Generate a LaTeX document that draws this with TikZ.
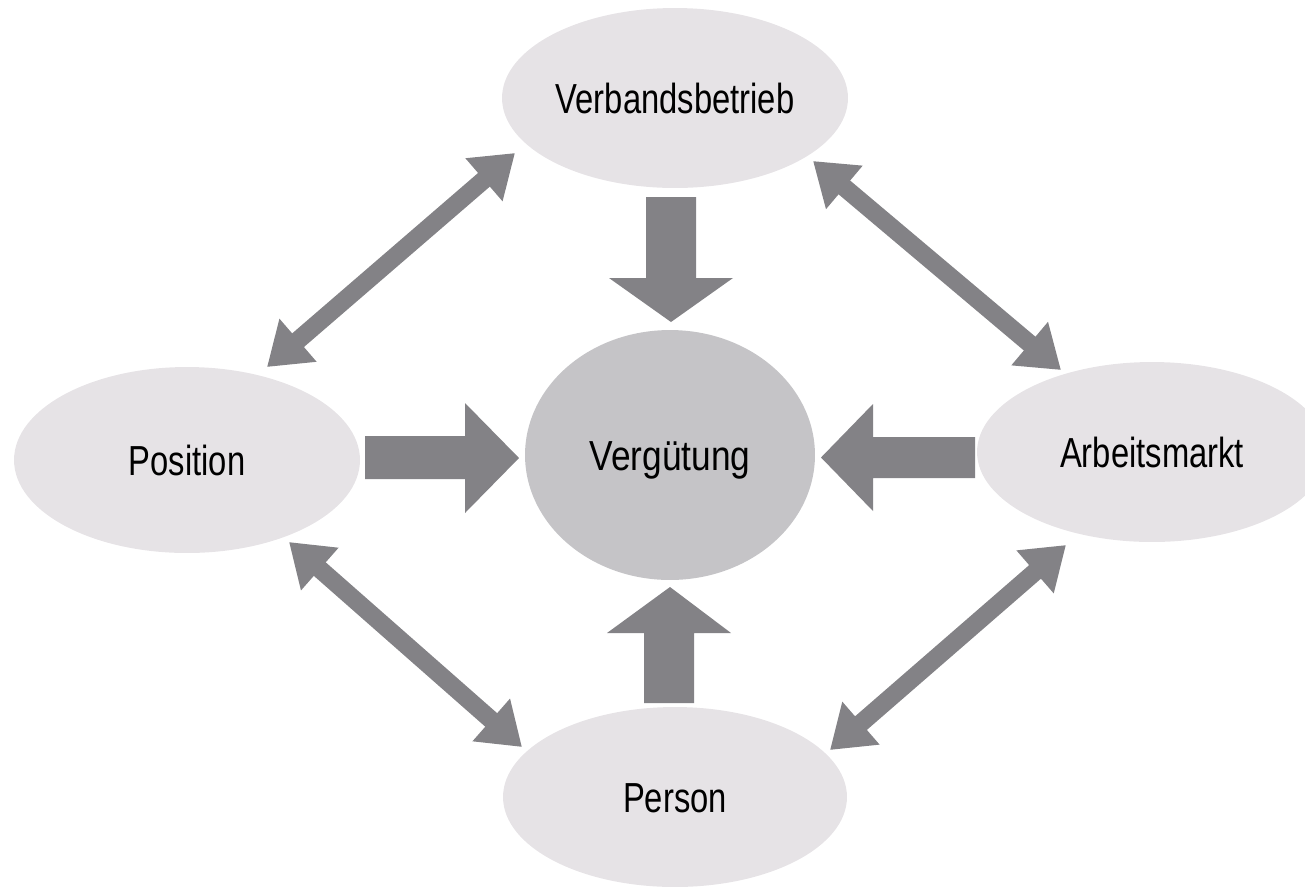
\documentclass[tikz,border=0pt]{standalone}
\usepackage{fontspec}
\newfontfamily\labelfont[FakeStretch=0.78]{Liberation Sans}
\newfontfamily\corefont[FakeStretch=0.84]{Liberation Sans}
\usetikzlibrary{shapes.geometric,arrows.meta}
\definecolor{bubblefill}{HTML}{E6E3E6}
\definecolor{corefill}{HTML}{C5C4C7}
\definecolor{flowgrey}{HTML}{838286}
\begin{document}
\begin{tikzpicture}[x=0.02cm,y=-0.02cm,
  bubble/.style={ellipse, fill=bubblefill, inner sep=0pt,
    font=\labelfont\fontsize{23.9}{28}\selectfont,
    text height=17.1pt, text depth=0pt},
  core/.style={bubble, fill=corefill, font=\corefont\fontsize{23.9}{28}\selectfont},
  twoway/.style={draw=flowgrey, line width=0.36cm,
    {Triangle[length=0.82cm,width=1.08cm]}-{Triangle[length=0.82cm,width=1.08cm]}},
  blockarrow/.style={fill=flowgrey}]
\path[use as bounding box, clip] (0,0) rectangle (1305,887);

% factors around the central node
\node[bubble, minimum width=6.92cm, minimum height=3.6cm]  (V) at (675,98)  {Verbandsbetrieb};
\node[bubble, minimum width=6.92cm, minimum height=3.72cm] (P) at (187,460) {Position};
\node[bubble, minimum width=7.0cm,  minimum height=3.6cm]  (A) at (1152,452) {Arbeitsmarkt};
\node[bubble, minimum width=6.88cm, minimum height=3.6cm]  (E) at (675,797) {Person};
\node[core,   minimum width=5.8cm,  minimum height=5.0cm]  (G) at (670,455) {Vergütung};

% block arrows pointing to the centre
\fill[blockarrow] (646,197) -- (696,197) -- (696,278) -- (733,278) -- (671,322)
  -- (609,278) -- (646,278) -- cycle;
\fill[blockarrow] (644,703) -- (694,703) -- (694,633) -- (731,633) -- (670,587)
  -- (607,633) -- (644,633) -- cycle;
\fill[blockarrow] (365,436) -- (465,436) -- (465,403) -- (519,458) -- (465,513)
  -- (465,479) -- (365,479) -- cycle;
\fill[blockarrow] (975,437) -- (873,437) -- (873,404) -- (821,457.5) -- (873,511)
  -- (873,478) -- (975,478) -- cycle;

% mutual influences between neighbouring factors
\coordinate (VtoP) at (515,153);  \coordinate (PtoV) at (267,367);
\coordinate (VtoA) at (813,161);  \coordinate (AtoV) at (1061,370);
\coordinate (PtoE) at (289,542);  \coordinate (EtoP) at (522,747);
\coordinate (AtoE) at (1066,545); \coordinate (EtoA) at (830,750);
\draw[twoway] (VtoP) -- (PtoV);
\draw[twoway] (VtoA) -- (AtoV);
\draw[twoway] (PtoE) -- (EtoP);
\draw[twoway] (AtoE) -- (EtoA);
\end{tikzpicture}
\end{document}
